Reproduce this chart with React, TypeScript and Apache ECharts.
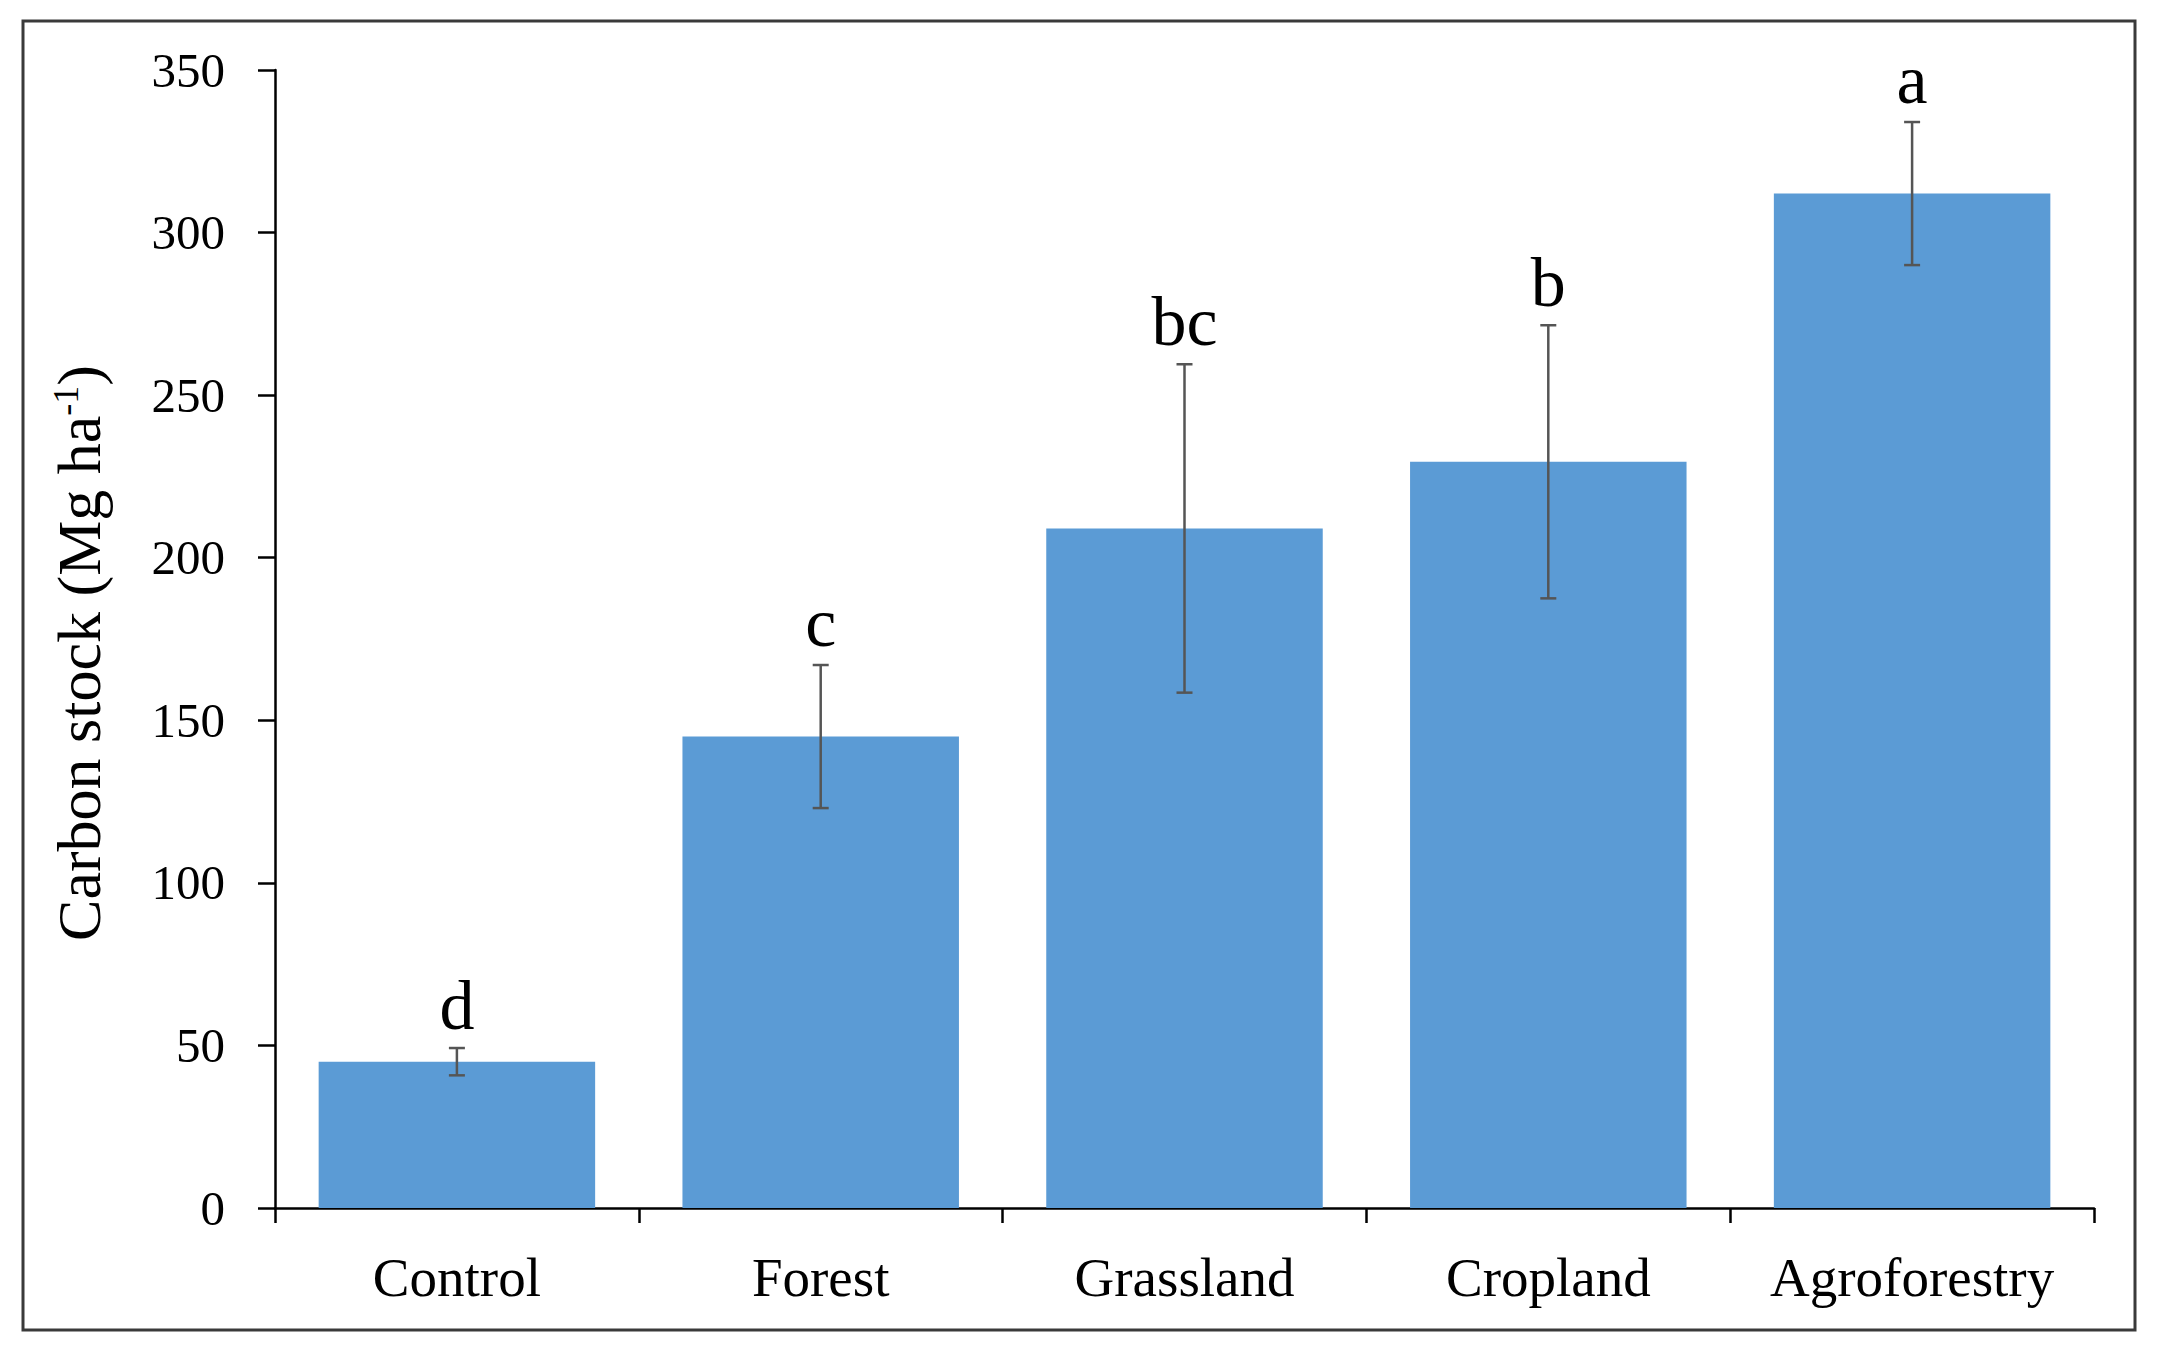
import React, { useEffect, useRef } from "react";
import * as echarts from "echarts";

const categories = ["Control", "Forest", "Grassland", "Cropland", "Agroforestry"];
const means = [45, 145, 209, 229.5, 312];
const errors = [4.2, 22, 50.5, 42, 22];
const letters = ["d", "c", "bc", "b", "a"];
const yTicks = { min: 0, max: 350, interval: 50 };

const FONT = "Liberation Serif";

export default function App() {
  const ref = useRef<HTMLDivElement>(null);
  useEffect(() => {
    if (!ref.current) return;
    const chart = echarts.init(ref.current, undefined, { renderer: "svg" });
    const errData = means.map((m, i) => [i, m - errors[i], m + errors[i]]);
    chart.setOption({
      animation: false,
      backgroundColor: "#ffffff",
      grid: { left: 275, right: 63, top: 70, bottom: 145, containLabel: false },
      graphic: [
        {
          type: "rect",
          shape: { x: 23, y: 21, width: 2112, height: 1309 },
          style: { fill: "none", stroke: "#3a3a3a", lineWidth: 3 },
          z: 100,
        },
      ],
      xAxis: {
        type: "category",
        data: categories,
        axisLine: { lineStyle: { color: "#000", width: 2.5 } },
        axisTick: { show: true, interval: 0, alignWithLabel: false, length: 15, lineStyle: { color: "#000", width: 2.5 } },
        axisLabel: { color: "#000", fontFamily: FONT, fontSize: 55, margin: 42, interval: 0 },
        splitLine: { show: false },
      },
      yAxis: {
        type: "value",
        min: yTicks.min,
        max: yTicks.max,
        interval: yTicks.interval,
        name: "Carbon stock (Mg ha{sup|-1})",
        nameLocation: "middle",
        nameGap: 165,
        nameTextStyle: {
          color: "#000",
          fontFamily: FONT,
          fontSize: 62,
          padding: [0, 28, 0, 0],
          rich: {
            sup: { fontFamily: FONT, fontSize: 36, color: "#000", verticalAlign: "top", lineHeight: 62 },
          },
        },
        axisLine: { show: true, lineStyle: { color: "#000", width: 2.5 } },
        axisTick: { show: true, length: 17, lineStyle: { color: "#000", width: 2.5 } },
        axisLabel: { color: "#000", fontFamily: FONT, fontSize: 49, margin: 50 },
        splitLine: { show: false },
      },
      series: [
        {
          type: "bar",
          data: means,
          barCategoryGap: "24%",
          itemStyle: { color: "#5B9BD5" },
          z: 2,
        },
        {
          type: "custom",
          data: errData,
          encode: { x: 0, y: [1, 2] },
          z: 5,
          renderItem: (params: any, api: any) => {
            const i = api.value(0);
            const lo = api.coord([i, api.value(1)]);
            const hi = api.coord([i, api.value(2)]);
            const cap = 8;
            const ls = { stroke: "#555555", lineWidth: 2.5 };
            return {
              type: "group",
              children: [
                { type: "line", shape: { x1: hi[0], y1: hi[1], x2: lo[0], y2: lo[1] }, style: ls },
                { type: "line", shape: { x1: hi[0] - cap, y1: hi[1], x2: hi[0] + cap, y2: hi[1] }, style: ls },
                { type: "line", shape: { x1: lo[0] - cap, y1: lo[1], x2: lo[0] + cap, y2: lo[1] }, style: ls },
                {
                  type: "text",
                  style: {
                    text: letters[params.dataIndex],
                    x: hi[0],
                    y: hi[1] - 8,
                    align: "center",
                    verticalAlign: "bottom",
                    fontFamily: FONT,
                    fontSize: 70,
                    fill: "#000",
                  },
                },
              ],
            };
          },
        },
      ],
    });
    return () => chart.dispose();
  }, []);
  return (
    <div
      ref={ref}
      style={{ position: "absolute", left: 0, top: 0, width: 2157, height: 1353, background: "#fff" }}
    />
  );
}
